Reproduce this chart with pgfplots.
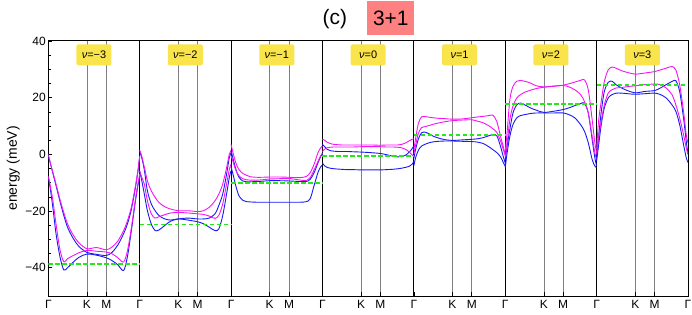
\documentclass[border=0pt]{standalone}
\usepackage{fontspec}
\setmainfont{Liberation Sans}
\usepackage{pgfplots}
\usepackage{pgfplotstable}
\pgfplotsset{compat=1.18}
\definecolor{bandblue}{RGB}{25,25,245}
\definecolor{bandmag}{RGB}{245,20,245}
\definecolor{mugreen}{RGB}{40,230,30}
\definecolor{nuyellow}{RGB}{250,228,75}
\definecolor{titlered}{RGB}{255,128,128}
\tikzset{nulab/.style={fill=nuyellow, rounded corners=2bp, minimum width=35bp, minimum height=21bp, inner sep=0pt, font=\fontsize{11}{13}\selectfont}}
\pgfplotsset{
  bb/.style={bandblue, line width=0.9bp, smooth, mark=none},
  mm/.style={bandmag, line width=0.9bp, smooth, mark=none},
  mu/.style={mugreen, line width=1.8bp, dash pattern=on 4.5bp off 2.5bp, mark=none},
}

\pgfplotstableread{
t     b1     b2     m1     m2
0     -8     -0.5   -7.6   0
0.05  -12    -3     -11    -2.9
0.12  -19    -6.8   -16.4  -6.4
0.2   -28    -11    -24.6  -10.5
0.3   -36    -16.5  -33.5  -15.8
0.4   -40.8  -21.5  -37.9  -20.5
0.5   -40    -25.8  -36.8  -24.6
0.65  -38    -29.8  -35.7  -28.6
0.8   -36.3  -32.6  -34.7  -31.3
1.0   -35.2  -34.6  -33.9  -33.3
1.25  -35.6  -35.3  -34.2  -32.9
1.5   -36.5  -35.7  -34.5  -33.7
1.65  -37.5  -34.6  -35.1  -32.7
1.8   -39    -32    -36.5  -30.6
1.95  -41    -28    -38    -26.9
2.05  -36    -24.5  -34    -23.4
2.15  -27    -19.5  -26    -18.7
2.25  -17    -12.2  -16.4  -11.7
2.32  -11    -6     -10.5  -5.8
2.366 -8     -0.8   -7     -0.6
}\pone
\pgfplotstableread{
t     b1     b2     m1     m2
0     -6     1      -5.8   1.5
0.05  -9     -1     -8     -0.5
0.12  -14    -5.5   -10.5  -4.5
0.2   -19.9  -12.9  -16.4  -9.4
0.3   -24.6  -17.5  -21    -12.9
0.4   -26.9  -19.9  -22.5  -15.2
0.5   -26.7  -21.6  -22    -17
0.65  -25.1  -22.8  -21.3  -18.5
0.8   -23.6  -23.2  -20.7  -19.3
1.0   -22.8  -22.8  -20.5  -19.9
1.25  -23.2  -22.5  -20.7  -19.9
1.5   -23.8  -22.8  -21    -20.2
1.65  -24.5  -22.8  -21.2  -19.9
1.8   -25.7  -22.5  -21.8  -18.7
1.95  -26.9  -21    -22.6  -16.4
2.05  -26.3  -18    -21.5  -14
2.15  -21.6  -14    -17.5  -10.5
2.25  -14    -7     -10.5  -4.7
2.32  -8.2   -1.2   -5.3   0
2.366 -5.8   0.6    -3.5   1.2
}\ptwo
\pgfplotstableread{
t     b1     b2     m1     m2
0     -4.5   1.5    -0.5   3.5
0.05  -7     -1.5   -2.5   0.6
0.12  -11    -5     -5.5   -2.9
0.2   -14.5  -8     -7.5   -5.3
0.3   -16.2  -9.4   -8.6   -6.7
0.4   -16.7  -9.7   -9.0   -7.4
0.5   -16.8  -9.7   -9.1   -7.9
0.65  -16.9  -9.6   -9.1   -8.1
0.8   -16.9  -9.5   -9.0   -8.1
1.0   -16.9  -9.3   -8.7   -8.0
1.25  -16.9  -9.3   -8.6   -8.0
1.5   -16.9  -9.4   -8.5   -8.1
1.65  -16.9  -9.5   -8.8   -8.2
1.8   -16.9  -9.6   -9.1   -8.2
1.95  -16.7  -9.6   -9.2   -7.8
2.05  -15.6  -8.8   -8.2   -6.4
2.15  -11    -6.5   -5.5   -3.5
2.25  -6.4   -3.0   -2.5   0.6
2.32  -4.4   -0.8   -0.5   2.3
2.366 -3.8   0      0.5    2.9
}\pthree
\pgfplotstableread{
t     b1     b2     m1     m2
0     -3.0   3.5    1.0    5.3
0.05  -4.0   2.8    1.8    5.0
0.12  -4.6   1.8    2.3    4.3
0.2   -4.9   1.3    2.5    3.8
0.3   -5.1   1.1    2.6    3.5
0.4   -5.2   1.0    2.6    3.4
0.5   -5.3   1.0    2.6    3.3
0.65  -5.4   1.0    2.6    3.3
0.8   -5.4   0.9    2.6    3.3
1.0   -5.5   0.8    2.7    3.3
1.25  -5.5   0.6    2.7    3.3
1.5   -5.5   0.3    2.7    3.2
1.65  -5.4   -0.1   2.6    3.3
1.8   -5.3   -0.6   2.6    3.3
1.95  -5.1   -0.9   2.5    3.3
2.05  -4.9   -0.8   2.3    3.5
2.15  -4.6   -0.3   1.8    4.0
2.25  -4.2   0.8    0.8    4.8
2.32  -3.5   2.0    -0.2   5.3
2.366 -2.5   3.0    -0.8   5.5
}\pfour
\pgfplotstableread{
t     b1     b2     m1     m2
0     -4.0   -1.5   0      1.5
0.05  -1.0   2.0    3.5    6.0
0.12  1.5    5.5    7.5    11.0
0.2   2.9    7.6    9.4    13.2
0.3   3.6    7.8    9.8    13.3
0.4   4.1    7.2    10.2   13.1
0.5   4.4    6.4    10.6   12.9
0.65  4.6    5.7    11.1   12.7
0.8   4.7    5.2    11.5   12.6
1.0   4.7    4.9    11.9   12.4
1.25  4.6    5.1    12.1   12.5
1.5   4.5    5.3    12.2   12.9
1.65  4.3    5.5    11.7   13.2
1.8   3.8    5.9    11.1   13.4
1.95  2.6    6.6    10.0   13.7
2.05  1.6    7.0    9.0    13.8
2.15  0.6    6.5    7.7    11.5
2.25  -1.0   2.5    4.5    6.0
2.32  -3.0   -1.0   1.5    2.5
2.366 -4.2   -3.0   -0.5   0
}\pfive
\pgfplotstableread{
t     b1     b2     m1     m2
0     -4.7   -2.0   -1.0   1.0
0.05  0.6    3.0    4.0    8.0
0.12  6.4    8.8    12.3   19.3
0.2   10.5   14.6   17.0   24.0
0.3   12.9   17.5   19.9   25.8
0.4   13.7   18.1   21.1   26.1
0.5   14.0   17.5   21.9   25.8
0.65  14.4   16.4   22.6   25.2
0.8   14.6   15.6   23.2   24.2
1.0   14.6   14.8   23.7   23.8
1.25  14.6   15.2   24.1   24.0
1.5   14.6   15.8   24.3   24.4
1.65  14.0   16.4   23.8   24.9
1.8   12.9   17.2   22.8   25.5
1.95  10.5   17.9   21.1   26.1
2.05  8.2    18.1   18.7   26.3
2.15  4.1    14.6   14.6   22.8
2.25  -1.8   5.3    6.4    12.3
2.32  -4.1   -1.2   0.6    4.1
2.366 -4.7   -4.1   -1.8   0.6
}\psix
\pgfplotstableread{
t     b1     b2     m1     m2
0     -2.3   -1.0   0.0    2.0
0.05  3.0    6.0    6.0    11.7
0.12  10.5   15.0   11.7   18.7
0.2   16.4   22.2   17.5   25.7
0.3   19.9   25.4   21.6   29.8
0.4   21.1   25.8   22.8   30.8
0.5   21.6   24.6   23.4   30.4
0.65  21.6   23.4   23.6   29.5
0.8   21.4   22.5   23.9   28.9
1.0   21.2   21.7   24.2   28.3
1.25  21.4   22.2   24.6   28.7
1.5   21.6   22.5   24.8   29.2
1.65  21.1   23.4   24.6   29.8
1.8   19.9   24.6   23.4   30.4
1.95  17.5   25.7   21.1   31.0
2.05  15.2   26.0   17.5   29.8
2.15  10.5   22.2   12.8   24.6
2.25  3.5    12.8   7.0    15.2
2.32  -1.2   4.7    2.3    7.0
2.366 -2.9   0.0    0.0    4.0
}\pseven

\newcommand{\panel}[5]{%
  \addplot[bb] table[x expr=\thisrow{t}+#2, y=b1]{#1};
  \addplot[bb] table[x expr=\thisrow{t}+#2, y=b2]{#1};
  \addplot[mm] table[x expr=\thisrow{t}+#2, y=m1]{#1};
  \addplot[mm] table[x expr=\thisrow{t}+#2, y=m2]{#1};
  \addplot[mu] coordinates {(#2,#4) (#3,#4)};
  \node[nulab] at (axis cs:#2+1.183,35.1) {\textit{ν}=#5};
}

\begin{document}
\begin{tikzpicture}
\begin{axis}[
  scale only axis, width=639.7bp, height=255bp,
  xmin=0, xmax=16.562, ymin=-50, ymax=40,
  clip mode=individual,
  axis line style={line width=1bp, black},
  xtick={1,1.5,3.366,3.866,5.732,6.232,8.098,8.598,10.464,10.964,12.830,13.330,15.196,15.696},
  xticklabels={K,M,K,M,K,M,K,M,K,M,K,M,K,M},
  extra x ticks={0,2.366,4.732,7.098,9.464,11.830,14.196,16.562},
  extra x tick labels={Γ,Γ,Γ,Γ,Γ,Γ,Γ,Γ},
  extra x tick style={grid=major, major grid style={black, line width=0.8bp}},
  xmajorgrids, major grid style={gray, line width=0.7bp},
  xtick pos=bottom, ytick pos=left,
  ytick={-40,-20,0,20,40}, yticklabels={−40,−20,0,20,40},
  minor y tick num=3,
  tick align=inside,
  tick style={black, line width=0.6bp},
  major tick length=4bp, minor tick length=2.5bp,
  ticklabel style={font=\fontsize{12}{14}\selectfont},
  yticklabel style={xshift=1bp},
  xticklabel style={yshift=-1bp},
  ylabel={energy (meV)},
  ylabel style={font=\fontsize{14}{16}\selectfont, at={(ticklabel cs:0.5)}, yshift=-1bp},
]
\panel{\pone}{0}{2.366}{-38.8}{−3}
\panel{\ptwo}{2.366}{4.732}{-24.8}{−2}
\panel{\pthree}{4.732}{7.098}{-10.15}{−1}
\panel{\pfour}{7.098}{9.464}{-0.7}{0}
\panel{\pfive}{9.464}{11.830}{6.8}{1}
\panel{\psix}{11.830}{14.196}{17.9}{2}
\panel{\pseven}{14.196}{16.562}{24.45}{3}
\node[font=\fontsize{21}{24}\selectfont, anchor=center] at (rel axis cs:0.448,1.086) {(c)};
\node[fill=titlered, minimum width=47bp, minimum height=34bp, inner sep=0pt, font=\fontsize{21}{24}\selectfont, anchor=center] at (rel axis cs:0.5354,1.090) {3+1};
\coordinate (bl) at (rel axis cs:0,0);
\coordinate (tr) at (rel axis cs:1,1);
\end{axis}
\pgfresetboundingbox
\path[use as bounding box] ([shift={(-48.3bp,-19bp)}]bl) rectangle ([shift={(4bp,41bp)}]tr);
\end{tikzpicture}
\end{document}
